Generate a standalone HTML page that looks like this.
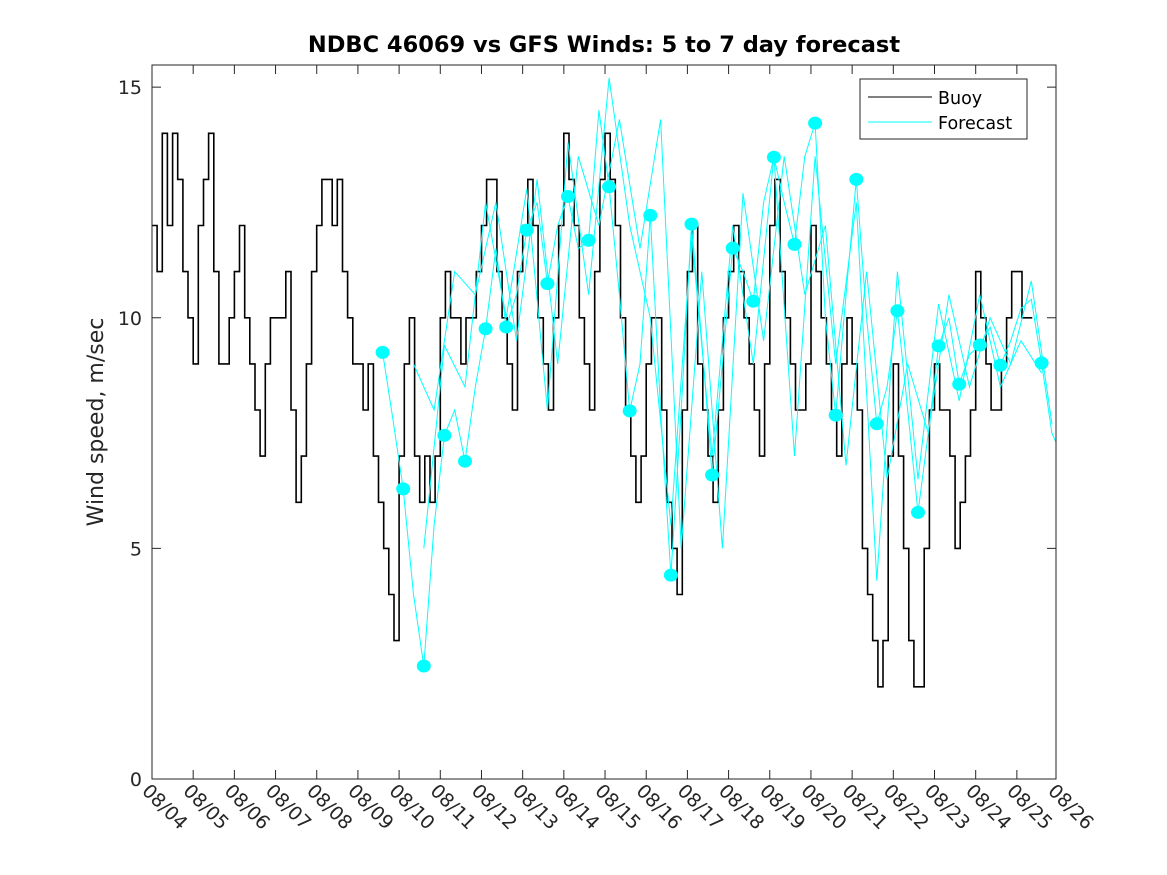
<!DOCTYPE html>
<html><head><meta charset="utf-8"><style>
body{margin:0;background:#fff;}
svg{display:block;font-family:"DejaVu Sans","Liberation Sans",sans-serif;}
</style></head><body>
<svg id="chart" width="1167" height="875" viewBox="0 0 1167 875" xmlns="http://www.w3.org/2000/svg">
<defs><clipPath id="clip"><rect x="152" y="65" width="904" height="714"/></clipPath></defs>
<rect x="0" y="0" width="1167" height="875" fill="#fff"/>
<text x="604" y="52" text-anchor="middle" font-size="22.5" font-weight="bold" fill="#000">NDBC 46069 vs GFS Winds: 5 to 7 day forecast</text>
<text transform="translate(103,422) rotate(-90)" text-anchor="middle" font-size="22" fill="#262626">Wind speed, m/sec</text>
<g id="plot" clip-path="url(#clip)"></g>
<g id="axes"></g>
<g>
<rect x="860" y="79" width="167" height="60" fill="#fff" stroke="#262626" stroke-width="1"/>
<line x1="868" y1="97" x2="932" y2="97" stroke="#000" stroke-width="1"/>
<text x="938" y="104" font-size="17.5" fill="#000">Buoy</text>
<line x1="868" y1="122" x2="932" y2="122" stroke="#00ffff" stroke-width="1"/>
<text x="938" y="129" font-size="17.5" fill="#000">Forecast</text>
</g>
</svg>
<script>
const buoyStart = 0, buoyStep = 0.125;
const buoyValues = [
12,11,14,12,14,13,11,10,
9,12,13,14,11,9,9,10,
11,12,10,9,8,7,9,10,
10,10,11,8,6,7,9,11,
12,13,13,12,13,11,10,9,
9,8,9,7,6,5,4,3,
7,9,10,7,6,7,6,7,
10,11,10,10,9,10,10,11,
12,13,13,11,10,9,8,11,
12,13,12,10,9,8,10,12,
14,13,12,10,9,8,11,13,
14,13,12,10,8,7,6,7,
9,10,10,8,6,5,4,8,
11,12,9,8,7,6,8,10,
11,12,11,10,9,8,7,9,
12,13,11,10,9,8,8,9,
12,11,10,9,8,7,9,10,
9,8,5,4,3,2,3,7,
9,7,5,3,2,2,5,8,
9,8,8,7,5,6,7,8,
11,10,9,8,8,9,10,11,
11,10,10];
const markerStart = 5.6, markerStep = 0.5;
const markerValues = [9.25,6.29,2.45,7.45,6.89,9.76,9.8,11.9,10.74,12.63,11.68,12.84,7.98,12.22,4.42,12.03,6.59,11.51,10.36,13.48,11.59,14.22,7.89,13.0,7.7,10.15,5.78,9.39,8.56,9.41,8.97,null,9.02];
const fc1Start = 5.6, fc1Step = 0.25;
const fc1Values = [9.25,7.8,6.29,4.0,2.45,5.5,7.45,8.0,6.89,8.5,9.76,11.5,9.8,10.5,11.9,12.5,10.74,12.0,12.63,11.5,11.68,14.5,12.84,10.5,7.98,9.0,12.22,8.0,4.42,8.0,12.03,9.5,6.59,9.0,11.51,11.0,10.36,12.5,13.48,12.5,11.59,13.5,14.22,10.0,7.89,10.5,13.0,10.0,7.7,8.5,10.15,8.0,5.78,7.5,9.39,10.0,8.56,9.2,9.41,9.8,8.97,9.5,10.2,10.4,9.02,7.5,7.0];
const fc2Start = 6.35, fc2Step = 0.5;
const fc2Values = [9.0,8.0,11.0,10.5,12.5,9.5,13.0,9.0,13.5,12.0,14.3,11.5,14.3,5.0,11.0,5.0,12.7,9.5,13.5,10.5,12.0,6.8,11.0,6.5,9.0,7.5,10.5,8.5,10.0,9.0,10.8,7.7];
const fc3Start = 6.6, fc3Step = 0.5;
const fc3Values = [5.0,9.4,8.5,12.5,10.0,12.8,8.0,13.8,10.5,15.2,12.0,10.0,5.5,11.8,7.0,12.0,9.0,13.5,7.0,13.5,9.0,12.5,4.3,11.0,6.5,10.3,8.2,10.5,8.5,9.5,8.8];
const yTicks = [0,5,10,15];
const xTickLabels = ['08/04','08/05','08/06','08/07','08/08','08/09','08/10','08/11','08/12','08/13','08/14','08/15','08/16','08/17','08/18','08/19','08/20','08/21','08/22','08/23','08/24','08/25','08/26'];

const L=152,R=1056,T=65,B=779, dayMax=21.95, yMax=15.48;
const sx=d=>L+(d/dayMax)*(R-L);
const sy=v=>B-(v/yMax)*(B-T);
const NS='http://www.w3.org/2000/svg';
const plot=document.getElementById('plot'), axes=document.getElementById('axes');
function mk(tag,parent){const e=document.createElementNS(NS,tag);parent.appendChild(e);return e;}

let d='';
buoyValues.forEach((v,i)=>{const x0=sx(buoyStart+i*buoyStep),x1=sx(buoyStart+(i+1)*buoyStep),y=sy(v);
 d+=(i===0?'M':'L')+x0.toFixed(1)+' '+y.toFixed(1)+' L'+x1.toFixed(1)+' '+y.toFixed(1)+' ';});
const bp=mk('path',plot);


bp.setAttribute('d',d);bp.setAttribute('fill','none');bp.setAttribute('stroke','#000');bp.setAttribute('stroke-width','1.6');

function fline(start,step,vals,name){
 const p=mk('polyline',plot);
 
 
 p.setAttribute('points',vals.map((v,i)=>sx(start+i*step).toFixed(1)+','+sy(v).toFixed(1)).join(' '));
 p.setAttribute('fill','none');p.setAttribute('stroke','#00ffff');p.setAttribute('stroke-width','1');
}
fline(fc1Start,fc1Step,fc1Values,'forecast-line-1');
fline(fc2Start,fc2Step,fc2Values,'forecast-line-2');
fline(fc3Start,fc3Step,fc3Values,'forecast-line-3');
markerValues.forEach((v,i)=>{if(v===null)return;
 const c=mk('ellipse',plot);
 
 
 c.setAttribute('cx',sx(markerStart+i*markerStep).toFixed(1));c.setAttribute('cy',sy(v).toFixed(1));
 c.setAttribute('rx','7');c.setAttribute('ry','6.5');c.setAttribute('fill','#00ffff');});

const box=mk('rect',axes);


box.setAttribute('x',L);box.setAttribute('y',T);box.setAttribute('width',R-L);box.setAttribute('height',B-T);
box.setAttribute('fill','none');box.setAttribute('stroke','#262626');box.setAttribute('stroke-width','1');
yTicks.forEach(v=>{const y=sy(v);
 [[L,L+9],[R,R-9]].forEach(([a,b])=>{const t=mk('line',axes);
  
  
  t.setAttribute('x1',a);t.setAttribute('x2',b);t.setAttribute('y1',y);t.setAttribute('y2',y);t.setAttribute('stroke','#262626');});
 const tx=mk('text',axes);
 
 
 tx.setAttribute('x',L-10);tx.setAttribute('y',y+7);tx.setAttribute('text-anchor','end');tx.setAttribute('font-size','19');tx.setAttribute('fill','#262626');tx.textContent=v;});
xTickLabels.forEach((lab,i)=>{const x=sx(i);
 if(x<=R+0.5){[[B,B-9],[T,T+9]].forEach(([a,b])=>{const t=mk('line',axes);
  
  
  t.setAttribute('x1',x);t.setAttribute('x2',x);t.setAttribute('y1',a);t.setAttribute('y2',b);t.setAttribute('stroke','#262626');});}
 const tx=mk('text',axes);
 
 
 tx.setAttribute('transform','translate('+(x-11)+','+(B+13)+') rotate(45)');
 tx.setAttribute('font-size','19');tx.setAttribute('fill','#262626');tx.textContent=lab;});
</script>
</body></html>
